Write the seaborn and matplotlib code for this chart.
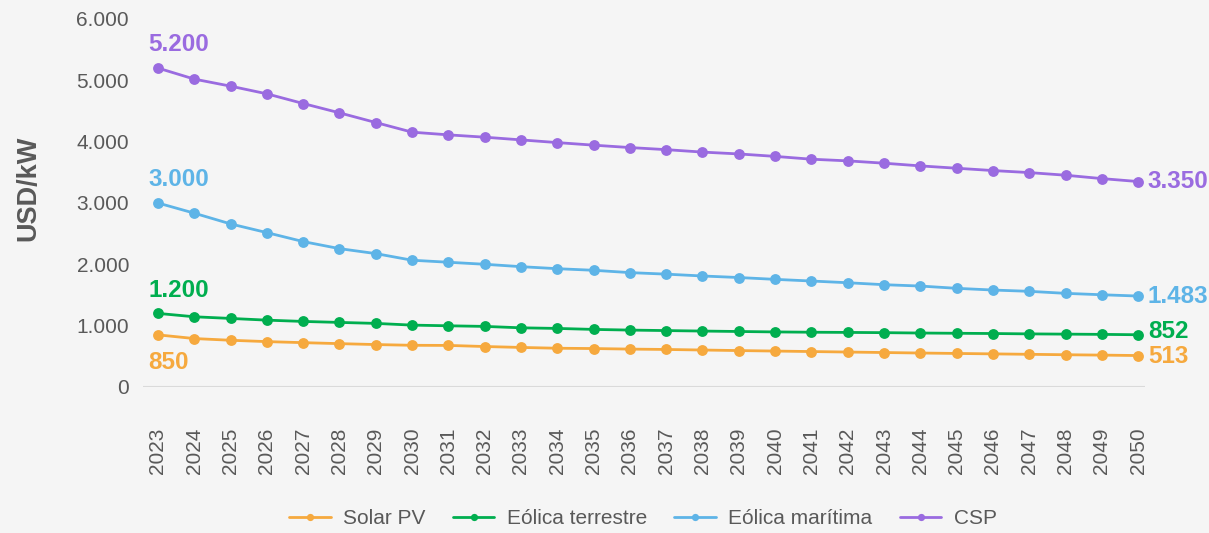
import matplotlib
matplotlib.use("Agg")
import matplotlib.pyplot as plt
from matplotlib.lines import Line2D
from matplotlib.ticker import FuncFormatter
import seaborn as sns
import pandas as pd

# Investment cost projections, USD/kW
years = list(range(2023, 2051))
solar_pv = [850, 790, 762, 740, 723, 707, 692, 680, 678, 660, 645, 632, 627,
            618, 612, 603, 594, 586, 578, 570, 562, 554, 547, 540, 533, 526, 520, 513]
eolica_terrestre = [1200, 1145, 1118, 1090, 1069, 1053, 1037, 1009, 998, 988, 965, 955, 939,
                    928, 920, 912, 905, 898, 893, 890, 886, 880, 876, 872, 866, 862, 858, 852]
eolica_maritima = [3000, 2834, 2659, 2517, 2371, 2256, 2175, 2067, 2034, 2001, 1962, 1929, 1903,
                   1865, 1840, 1810, 1785, 1755, 1728, 1700, 1668, 1646, 1609, 1581, 1560, 1527, 1504, 1483]
csp = [5200, 5020, 4905, 4780, 4622, 4470, 4312, 4155, 4111, 4073, 4029, 3985, 3943,
       3904, 3870, 3830, 3800, 3760, 3714, 3687, 3649, 3605, 3567, 3529, 3496, 3453, 3398, 3350]

series_names = ["Solar PV", "Eólica terrestre", "Eólica marítima", "CSP"]
series_values = [solar_pv, eolica_terrestre, eolica_maritima, csp]
colors = ["#F6A93E", "#00AE4F", "#5EB4E7", "#9A6BE0"]
y_ticks = [0, 1000, 2000, 3000, 4000, 5000, 6000]

def fmt_thousands(v):
    return f"{int(round(v)):,}".replace(",", ".")

sns.set_theme(style="white")
plt.rcParams["font.family"] = ["Liberation Sans", "DejaVu Sans"]
bg = "#F5F5F5"
text_gray = "#595959"

rows = []
for name, vals in zip(series_names, series_values):
    for i, v in enumerate(vals):
        rows.append({"idx": i, "year": years[i], "valor": v, "serie": name})
df = pd.DataFrame(rows)

fig = plt.figure(figsize=(12.09, 5.33), dpi=100, facecolor=bg)
ax = fig.add_axes([143 / 1209, 1 - 387 / 533, 1002 / 1209, 368 / 533])
ax.set_facecolor(bg)

sns.lineplot(data=df, x="idx", y="valor", hue="serie", hue_order=series_names,
             palette=colors, marker="o", markersize=7.8, markeredgewidth=0,
             linewidth=2.0, legend=False, ax=ax, clip_on=False)

ax.set_xlim(-0.413, 27.19)
ax.set_ylim(0, 6000)
for s in ax.spines.values():
    s.set_visible(False)
ax.axhline(0, color="#DADADA", lw=1.5, zorder=0)

ax.set_xticks(range(len(years)))
ax.set_xticklabels([str(y) for y in years], rotation=90, fontsize=15, color=text_gray)
ax.set_yticks(y_ticks)
ax.yaxis.set_major_formatter(FuncFormatter(lambda v, p: fmt_thousands(v)))
ax.tick_params(axis="x", length=0, pad=29)
ax.tick_params(axis="y", length=0, pad=10, labelsize=15, labelcolor=text_gray)
ax.set_xlabel("")
ax.set_ylabel("USD/kW", fontsize=19.5, fontweight="bold", color=text_gray)
ax.yaxis.set_label_coords(-0.101, 0.54)

# value labels at the start and end of every series
first_offsets = {"Solar PV": (-7, -11.5, "top"), "Eólica terrestre": (-7, 8, "bottom"),
                 "Eólica marítima": (-7, 8.5, "bottom"), "CSP": (-7, 8.5, "bottom")}
last_offsets = {"Solar PV": -1, "Eólica terrestre": 2.5, "Eólica marítima": 0, "CSP": 0}
last = len(years) - 1
for name, vals, c in zip(series_names, series_values, colors):
    dx, dy, va = first_offsets[name]
    ax.annotate(fmt_thousands(vals[0]), (0, vals[0]), xytext=(dx, dy),
                textcoords="offset points", ha="left", va=va,
                fontsize=17.5, fontweight="bold", color=c, annotation_clip=False)
    ax.annotate(fmt_thousands(vals[last]), (last, vals[last]), xytext=(7, last_offsets[name]),
                textcoords="offset points", ha="left", va="center",
                fontsize=17.5, fontweight="bold", color=c, annotation_clip=False)

handles = [Line2D([0], [0], color=c, lw=2.0, marker="o", markersize=5.2, markeredgewidth=0)
           for c in colors]
leg = fig.legend(handles, series_names, loc="center", bbox_to_anchor=(643 / 1209, 1 - 519 / 533),
                 ncol=4, frameon=False, fontsize=15, handlelength=2.0, handletextpad=0.6,
                 columnspacing=1.3)
for t in leg.get_texts():
    t.set_color(text_gray)

fig.savefig("out.png", dpi=100, facecolor=bg)
